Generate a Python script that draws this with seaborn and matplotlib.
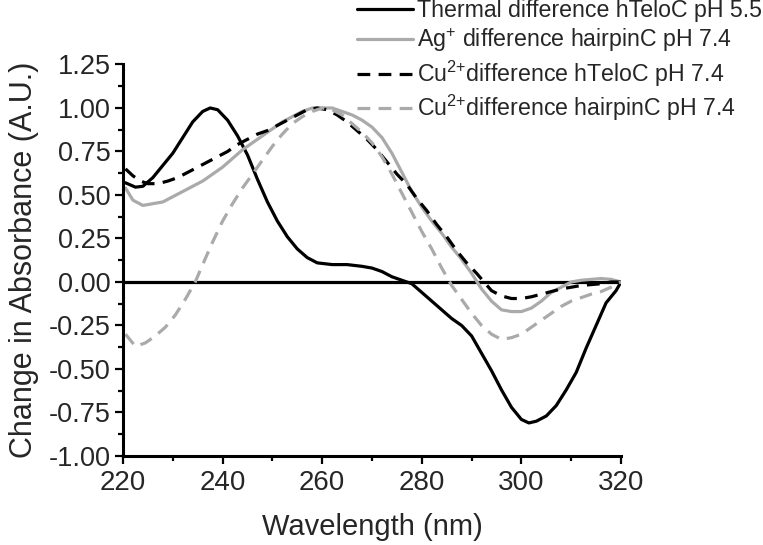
import numpy as np
import pandas as pd
import matplotlib
matplotlib.use("Agg")
import matplotlib.pyplot as plt
import seaborn as sns
from matplotlib.ticker import MultipleLocator

series_names = [
    "Thermal difference hTeloC pH 5.5",
    "Ag$^{+}$ difference hairpinC pH 7.4",
    "Cu$^{2{+}}$difference hTeloC pH 7.4",
    "Cu$^{2{+}}$difference hairpinC pH 7.4",
]

thermal_nm = [220.5, 222.5, 224, 226, 228, 230, 232, 234, 236, 237.5, 239, 241, 243, 245, 247, 249,
              251, 253, 255, 257, 259, 262, 265, 268, 270, 272, 274, 276, 278, 280, 282, 284, 286,
              288, 290, 292, 294, 296, 298, 300, 301.5, 303, 305, 307, 309, 311, 313, 315, 317, 319, 320]
thermal_val = [0.57, 0.545, 0.55, 0.60, 0.67, 0.74, 0.83, 0.92, 0.98, 1.00, 0.99, 0.93, 0.84, 0.73, 0.59, 0.46,
               0.35, 0.26, 0.19, 0.14, 0.11, 0.10, 0.10, 0.09, 0.08, 0.06, 0.03, 0.01, -0.01, -0.06, -0.11, -0.16, -0.21,
               -0.25, -0.31, -0.41, -0.51, -0.62, -0.72, -0.79, -0.81, -0.80, -0.77, -0.71, -0.62, -0.52, -0.38, -0.25, -0.12, -0.05, 0.0]

ag_nm = [220.5, 222, 224, 226, 228, 230, 232, 234, 236, 238, 240, 242, 244, 246, 248, 250, 252, 254, 256,
         258, 260, 262, 264, 266, 268, 270, 272, 274, 276, 278, 280, 282, 284, 286, 288, 290, 292, 294,
         296, 298, 300, 302, 304, 306, 308, 310, 312, 314, 316, 318, 320]
ag_val = [0.54, 0.47, 0.44, 0.45, 0.46, 0.49, 0.52, 0.55, 0.58, 0.62, 0.66, 0.71, 0.76, 0.80, 0.84, 0.88, 0.92, 0.95, 0.98,
          1.00, 1.00, 1.00, 0.98, 0.96, 0.93, 0.89, 0.83, 0.74, 0.63, 0.52, 0.43, 0.35, 0.28, 0.20, 0.13, 0.05, -0.04, -0.11,
          -0.16, -0.17, -0.17, -0.15, -0.11, -0.06, -0.03, 0.00, 0.01, 0.015, 0.02, 0.015, 0.0]

cu_telo_nm = [220.5, 222, 223.5, 225, 227, 229, 231, 233, 235, 237, 239, 241, 243, 245, 247, 249, 251, 253,
              255, 257, 259, 261, 263, 265, 267, 269, 271, 273, 275, 277, 279, 281, 283, 285, 287, 289, 291,
              292.5, 294, 296, 298, 300, 302, 304, 306, 308, 310, 312, 314, 316, 318, 320]
cu_telo_val = [0.65, 0.61, 0.58, 0.565, 0.565, 0.58, 0.60, 0.63, 0.66, 0.69, 0.72, 0.75, 0.79, 0.82, 0.85, 0.87, 0.90, 0.93,
               0.96, 0.99, 1.00, 0.99, 0.96, 0.92, 0.87, 0.82, 0.76, 0.69, 0.62, 0.56, 0.48, 0.41, 0.33, 0.26, 0.18, 0.11, 0.05,
               0.00, -0.05, -0.08, -0.095, -0.095, -0.085, -0.07, -0.055, -0.04, -0.03, -0.02, -0.015, -0.01, 0.0, 0.0]

cu_hairpin_nm = [220.5, 222.5, 224.5, 226.5, 228.5, 230.5, 232.5, 234.5, 236, 238, 240, 242, 244, 246, 248, 250,
                 252, 254, 256, 258, 260, 262, 264, 266, 268, 270, 272, 274, 276, 278, 280, 282, 284, 286, 288,
                 290, 292, 294, 296, 298, 300, 302, 304, 306, 308, 310, 312, 314, 316, 318, 320]
cu_hairpin_val = [-0.30, -0.37, -0.35, -0.31, -0.26, -0.19, -0.10, 0.00, 0.10, 0.23, 0.35, 0.45, 0.54, 0.62, 0.70, 0.78,
                  0.85, 0.91, 0.95, 0.98, 1.00, 0.99, 0.96, 0.91, 0.86, 0.80, 0.72, 0.62, 0.51, 0.40, 0.29, 0.19, 0.08, -0.02, -0.10,
                  -0.18, -0.25, -0.30, -0.33, -0.32, -0.30, -0.26, -0.22, -0.18, -0.14, -0.11, -0.09, -0.07, -0.055, -0.03, 0.0]

x_ticks = [220, 240, 260, 280, 300, 320]
y_ticks = [-1.00, -0.75, -0.50, -0.25, 0.00, 0.25, 0.50, 0.75, 1.00, 1.25]


def build_frame():
    parts = []
    for name, nm, val in zip(series_names,
                             [thermal_nm, ag_nm, cu_telo_nm, cu_hairpin_nm],
                             [thermal_val, ag_val, cu_telo_val, cu_hairpin_val]):
        parts.append(pd.DataFrame({"nm": nm, "value": val, "series": name}))
    return pd.concat(parts, ignore_index=True)


sns.set_style("ticks")
plt.rcParams["font.family"] = ["Liberation Sans", "DejaVu Sans"]
plt.rcParams["mathtext.fontset"] = "custom"
plt.rcParams["mathtext.rm"] = "Liberation Sans"
plt.rcParams["mathtext.default"] = "regular"

df = build_frame()
gray = "#aaaaaa"
palette = {series_names[0]: "black", series_names[1]: gray,
           series_names[2]: "black", series_names[3]: gray}
dashes = {series_names[0]: "", series_names[1]: "",
          series_names[2]: (4, 2.6), series_names[3]: (4, 2.6)}

fig = plt.figure(figsize=(7.63, 5.45), dpi=100)
ax = fig.add_axes([0.1612, 0.1633, 0.6527, 0.7184])

sns.lineplot(data=df, x="nm", y="value", hue="series", style="series",
             palette=palette, dashes=dashes, hue_order=series_names,
             style_order=series_names, estimator=None, sort=True,
             linewidth=2.3, ax=ax, legend=False)

ax.axhline(0, color="black", lw=2.3, zorder=1)

ax.set_xlim(220, 320)
ax.set_ylim(-1.0, 1.25)
ax.set_xticks(x_ticks)
ax.set_yticks(y_ticks)
ax.set_yticklabels([f"{t:.2f}" for t in y_ticks])
ax.xaxis.set_minor_locator(MultipleLocator(10))
ax.yaxis.set_minor_locator(MultipleLocator(0.125))
ax.tick_params(which="major", length=6, width=1.6, direction="out", color="black")
ax.tick_params(which="minor", length=3.5, width=1.6, direction="out", color="black")
ax.tick_params(axis="x", labelsize=20, pad=4)
ax.tick_params(axis="y", labelsize=19.5, pad=3)
for side in ["top", "right"]:
    ax.spines[side].set_visible(False)
for side in ["left", "bottom"]:
    ax.spines[side].set_linewidth(2.2)
    ax.spines[side].set_color("black")

ax.set_xlabel("Wavelength (nm)", fontsize=21, labelpad=12)
ax.set_ylabel("Change in Absorbance (A.U.)", fontsize=22, labelpad=7)

handles = []
for name in series_names:
    ls = "-" if dashes[name] == "" else (0, dashes[name])
    h, = ax.plot([], [], color=palette[name], lw=2.3, linestyle=ls)
    handles.append(h)
ax.legend(handles, series_names, loc="upper left", bbox_to_anchor=(0.468, 1.002),
          bbox_transform=fig.transFigure, frameon=False, fontsize=16.7,
          handlelength=2.4, handletextpad=0.17, labelspacing=0.19,
          borderpad=0, borderaxespad=0)

fig.savefig("out.png", dpi=100)
